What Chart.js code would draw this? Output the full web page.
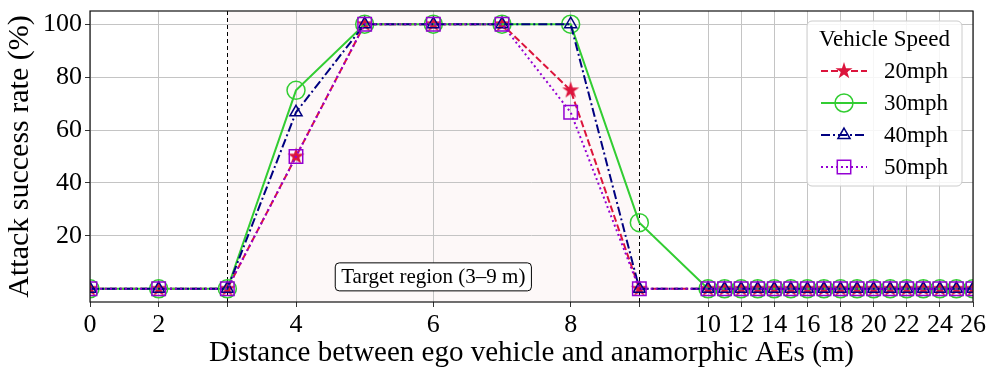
<!DOCTYPE html>
<html>
<head>
<meta charset="utf-8">
<script src="https://cdn.jsdelivr.net/npm/chart.js@4.4.1/dist/chart.umd.min.js"></script>
<style>
  body { margin: 0; background: #fff; }
  canvas { display: block; }
</style>
</head>
<body>
<canvas id="grafico" width="996" height="376"></canvas>
<script>
// DATA
const distances = [0, 2, 3, 4, 5, 6, 7, 8, 9, 10, 11, 12, 13, 14, 15, 16, 17, 18, 19, 20, 21, 22, 23, 24, 25, 26];
const asr20 = [0, 0, 0, 50, 100, 100, 100, 75, 0, 0, 0, 0, 0, 0, 0, 0, 0, 0, 0, 0, 0, 0, 0, 0, 0, 0];
const asr30 = [0, 0, 0, 75, 100, 100, 100, 100, 25, 0, 0, 0, 0, 0, 0, 0, 0, 0, 0, 0, 0, 0, 0, 0, 0, 0];
const asr40 = [0, 0, 0, 66.7, 100, 100, 100, 100, 0, 0, 0, 0, 0, 0, 0, 0, 0, 0, 0, 0, 0, 0, 0, 0, 0, 0];
const asr50 = [0, 0, 0, 50, 100, 100, 100, 66.7, 0, 0, 0, 0, 0, 0, 0, 0, 0, 0, 0, 0, 0, 0, 0, 0, 0, 0];
const speedLabels = ['20mph', '30mph', '40mph', '50mph'];
const xTickValues = [0, 2, 3, 4, 6, 8, 9, 10, 12, 14, 16, 18, 20, 22, 24, 26];
const xTickLabels = ['0', '2', '', '4', '6', '8', '', '10', '12', '14', '16', '18', '20', '22', '24', '26'];
const yTickValues = [20, 40, 60, 80, 100];
const regionStart = 3;
const regionEnd = 9;

const FONT = 'Liberation Serif';

// broken x axis: 0-2 squeezed, 2-10 normal, 10-26 compressed
function axisPos(d) {
    if (d <= 2) return d / 2;
    if (d <= 10) return d - 1;
    return 9 + (d - 10) * 0.2412;
}

// filled star like matplotlib '*'
function makeStar(color, r) {
    const c = document.createElement('canvas');
    const s = Math.ceil(r * 2 + 2);
    c.width = s; c.height = s;
    const g = c.getContext('2d');
    g.beginPath();
    for (let k = 0; k < 10; k++) {
        const rad = k % 2 === 0 ? r : r * 0.382;
        const a = -Math.PI / 2 + k * Math.PI / 5;
        g.lineTo(s / 2 + rad * Math.cos(a), s / 2 + rad * Math.sin(a));
    }
    g.closePath();
    g.fillStyle = color;
    g.fill();
    return c;
}

const estilos = [
    { color: '#DC143C', dash: [7, 3], pointStyle: makeStar('#DC143C', 9), radius: 9 },
    { color: '#32CD32', dash: [], pointStyle: 'circle', radius: 9 },
    { color: '#000080', dash: [9, 3, 2, 3], pointStyle: 'triangle', radius: 7 },
    { color: '#9400D3', dash: [2, 3], pointStyle: 'rect', radius: 9.5 }
];
const series = [asr20, asr30, asr40, asr50];

const datasets = series.map((vals, i) => ({
    label: speedLabels[i],
    data: distances.map((d, j) => ({ x: axisPos(d), y: vals[j] })),
    borderColor: estilos[i].color,
    borderWidth: 2,
    borderDash: estilos[i].dash,
    backgroundColor: 'rgba(0,0,0,0)',
    pointStyle: estilos[i].pointStyle,
    pointRadius: estilos[i].radius,
    pointBorderColor: estilos[i].color,
    pointBackgroundColor: 'rgba(0,0,0,0)',
    pointBorderWidth: 1.5,
    tension: 0,
    order: series.length - i
}));

function isRegionEdge(ctx) {
    if (!ctx.tick) return false;
    const v = ctx.tick.value;
    return Math.abs(v - axisPos(regionStart)) < 1e-6 || Math.abs(v - axisPos(regionEnd)) < 1e-6;
}

// shading, frame, text box and legend
const extras = {
    id: 'extras',
    beforeDraw(chart) {
        const { ctx, chartArea, scales } = chart;
        ctx.save();
        ctx.fillStyle = '#fff';
        ctx.fillRect(0, 0, chart.width, chart.height);
        const x1 = scales.x.getPixelForValue(axisPos(regionStart));
        const x2 = scales.x.getPixelForValue(axisPos(regionEnd));
        ctx.fillStyle = '#fdf8f8';
        ctx.fillRect(x1, chartArea.top, x2 - x1, chartArea.bottom - chartArea.top);
        ctx.restore();
    },
    afterDatasetsDraw(chart) {
        const { ctx, chartArea, scales } = chart;
        ctx.save();
        // frame
        ctx.strokeStyle = '#111';
        ctx.lineWidth = 1.2;
        ctx.strokeRect(chartArea.left, chartArea.top, chartArea.right - chartArea.left, chartArea.bottom - chartArea.top);

        // target region label
        const cx = scales.x.getPixelForValue(axisPos(6));
        const cy = scales.y.getPixelForValue(4.5);
        ctx.font = '21px "' + FONT + '"';
        const txt = 'Target region (3–9 m)';
        const w = ctx.measureText(txt).width + 12;
        const h = 28;
        ctx.beginPath();
        ctx.roundRect(cx - w / 2, cy - h / 2, w, h, 4);
        ctx.fillStyle = '#fff';
        ctx.fill();
        ctx.strokeStyle = '#000';
        ctx.lineWidth = 1;
        ctx.stroke();
        ctx.fillStyle = '#000';
        ctx.textAlign = 'center';
        ctx.textBaseline = 'middle';
        ctx.fillText(txt, cx, cy + 1);

        // legend
        const lx = 807, ly = 21, lw = 155, lh = 165;
        ctx.beginPath();
        ctx.roundRect(lx, ly, lw, lh, 5);
        ctx.fillStyle = 'rgba(255,255,255,0.85)';
        ctx.fill();
        ctx.strokeStyle = '#cccccc';
        ctx.lineWidth = 1;
        ctx.stroke();
        ctx.font = '23px "' + FONT + '"';
        ctx.fillStyle = '#000';
        ctx.textAlign = 'center';
        ctx.fillText('Vehicle Speed', lx + lw / 2, 40);
        for (let i = 0; i < speedLabels.length; i++) {
            const y = 71 + i * 32;
            const st = estilos[i];
            ctx.beginPath();
            ctx.setLineDash(st.dash);
            ctx.strokeStyle = st.color;
            ctx.lineWidth = 2;
            ctx.moveTo(821, y);
            ctx.lineTo(867, y);
            ctx.stroke();
            ctx.setLineDash([]);
            ctx.fillStyle = 'rgba(0,0,0,0)';
            ctx.lineWidth = 1.5;
            Chart.helpers.drawPoint(ctx, { pointStyle: st.pointStyle, radius: st.radius, rotation: 0, borderWidth: 1.5 }, 844, y);
            ctx.fillStyle = '#000';
            ctx.textAlign = 'left';
            ctx.textBaseline = 'middle';
            ctx.fillText(speedLabels[i], 884, y + 1);
        }
        ctx.restore();
    }
};

Chart.defaults.font.family = FONT;
Chart.defaults.color = '#000';

new Chart(document.getElementById('grafico'), {
    type: 'line',
    data: { datasets: datasets },
    options: {
        responsive: false,
        animation: false,
        devicePixelRatio: 1,
        layout: { padding: { left: 0, right: 23, top: 9.5, bottom: 0 } },
        plugins: { legend: { display: false }, tooltip: { enabled: false } },
        scales: {
            x: {
                type: 'linear',
                min: 0,
                max: axisPos(26),
                afterBuildTicks: (scale) => {
                    scale.ticks = xTickValues.map(d => ({ value: axisPos(d) }));
                },
                afterFit: (scale) => {
                    scale.height = 74;
                    scale.paddingLeft = 0;
                    scale.paddingRight = 0;
                },
                ticks: {
                    autoSkip: false,
                    maxRotation: 0,
                    padding: 3,
                    font: { size: 26 },
                    callback: (v, i) => xTickLabels[i]
                },
                grid: {
                    color: (ctx) => isRegionEdge(ctx) ? '#000' : '#c4c4c4',
                    lineWidth: 1,
                    tickLength: 5,
                    tickColor: '#333'
                },
                border: {
                    display: false,
                    dash: (ctx) => isRegionEdge(ctx) ? [4, 3] : []
                },
                title: {
                    display: true,
                    text: 'Distance between ego vehicle and anamorphic AEs (m)',
                    font: { size: 29 },
                    padding: { top: 0, bottom: 5 }
                }
            },
            y: {
                min: -5,
                max: 105,
                afterBuildTicks: (scale) => {
                    scale.ticks = yTickValues.map(v => ({ value: v }));
                },
                afterFit: (scale) => {
                    scale.width = 90;
                    scale.paddingTop = 0;
                    scale.paddingBottom = 0;
                },
                ticks: { padding: 3, font: { size: 26 } },
                grid: { color: '#c4c4c4', lineWidth: 1, tickLength: 5, tickColor: '#333' },
                border: { display: false },
                title: {
                    display: true,
                    text: 'Attack success rate (%)',
                    font: { size: 30 },
                    padding: { top: 2, bottom: 0 }
                }
            }
        }
    },
    plugins: [extras]
});
</script>
</body>
</html>
